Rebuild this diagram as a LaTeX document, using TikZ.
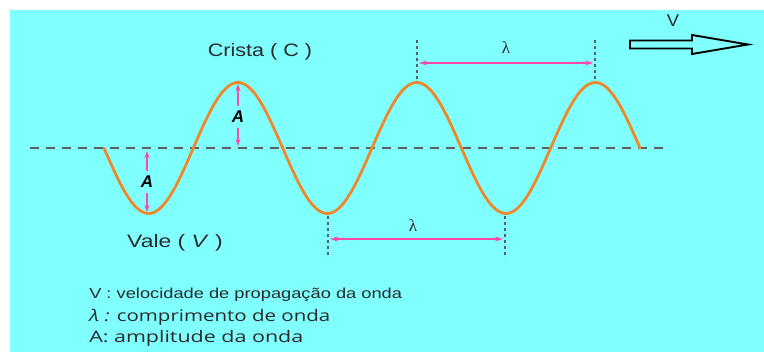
\documentclass[tikz,border=0pt]{standalone}
\usepackage{fontspec}
\setmainfont{Liberation Sans}
\newfontfamily\legendfont{Open Sans}
\newfontfamily\lamfont{Liberation Serif}
\usetikzlibrary{arrows.meta}
\definecolor{bgcyan}{HTML}{80FFFF}
\definecolor{waveorange}{HTML}{F0872A}
\definecolor{arrpink}{HTML}{FF48A8}
\definecolor{axisgray}{HTML}{5E5E5E}
\definecolor{txt}{HTML}{2A2A2A}
\tikzset{
  lbl/.style={inner sep=0pt, text=txt, font=\fontsize{18}{18}\selectfont, xscale=1.2},
  lamlbl/.style={inner sep=0pt, text=txt, font=\lamfont\fontsize{17}{17}\selectfont},
  alabel/.style={inner sep=0pt, text=black, font=\fontsize{17}{17}\selectfont\bfseries\itshape},
  legendA/.style={inner sep=0pt, anchor=west, text=txt, font=\fontsize{14.5}{14.5}\selectfont, xscale=1.26},
  legendB/.style={inner sep=0pt, anchor=west, text=txt, font=\legendfont\fontsize{16}{16}\selectfont},
  dim/.style={draw=arrpink, line width=1.4pt, {Stealth[length=8pt,width=5pt]}-{Stealth[length=8pt,width=5pt]}},
  amp/.style={draw=arrpink, line width=1.4pt, -{Stealth[length=7pt,width=5pt]}},
  guide/.style={draw=axisgray, line width=1.8pt, dash pattern=on 3pt off 3pt},
  axisline/.style={draw=axisgray, line width=1.4pt, dash pattern=on 9pt off 7pt},
  wave/.style={draw=waveorange, line width=2.8pt, line cap=round},
}
\begin{document}
\begin{tikzpicture}[x=1pt,y=-1pt]
\useasboundingbox (0,0) rectangle (764,356);
\fill[bgcyan] (10,10) rectangle (764,352);
% axis
\coordinate (axL) at (30,148);
\coordinate (axR) at (668,148);
\draw[axisline] (axL) -- (axR);
% wave
\draw[wave] plot[domain=104:640,samples=240] (\x,{148+65.5*sin(2.01489*(\x-104))});
% amplitude arrows
\coordinate (a1t) at (147,151);
\coordinate (a1b) at (147,212);
\node[alabel] (A1) at (147,182) {A};
\draw[amp] (A1.north) ++(0,-5) -- (a1t);
\draw[amp] (A1.south) ++(0,5) -- (a1b);
\coordinate (a2t) at (238,84);
\coordinate (a2b) at (238,146);
\node[alabel] (A2) at (238,117) {A};
\draw[amp] (A2.north) ++(0,-5) -- (a2t);
\draw[amp] (A2.south) ++(0,5) -- (a2b);
% top wavelength
\coordinate (t1a) at (417,40); \coordinate (t1b) at (417,80);
\coordinate (t2a) at (595,40); \coordinate (t2b) at (595,80);
\draw[guide] (t1a) -- (t1b);
\draw[guide] (t2a) -- (t2b);
\coordinate (tl) at (419,63); \coordinate (tr) at (593,63);
\draw[dim] (tl) -- (tr);
\node[lamlbl] (lamt) at (506,48) {λ};
% bottom wavelength
\coordinate (b1a) at (328,216); \coordinate (b1b) at (328,258);
\coordinate (b2a) at (505,216); \coordinate (b2b) at (505,258);
\draw[guide] (b1a) -- (b1b);
\draw[guide] (b2a) -- (b2b);
\coordinate (bl) at (330,239); \coordinate (br) at (503,239);
\draw[dim] (bl) -- (br);
\node[lamlbl] (lamb) at (413,226) {λ};
% labels
\node[lbl] (crista) at (260,52) {Crista ( C )};
\node[lbl, xscale=1.06] (vale) at (175,243) {Vale ( \textit{V} )};
\node[lbl, font=\fontsize{17}{17}\selectfont, xscale=0.9] (vlab) at (673,21) {V};
% velocity block arrow
\draw[black, line width=1.9pt, fill=bgcyan, line join=miter]
  (630,40.5) -- (692,40.5) -- (692,35) -- (748,44.5) -- (692,54) -- (692,48.5) -- (630,48.5) -- cycle;
% legend
\node[legendA] (l1) at (89,295) {V : velocidade de propagação da onda};
\node[legendB, xscale=1.28] (l2) at (89,317) {\textit{λ :} comprimento de onda};
\node[legendB, xscale=1.34] (l3) at (89,338) {A: amplitude da onda};
\end{tikzpicture}
\end{document}
